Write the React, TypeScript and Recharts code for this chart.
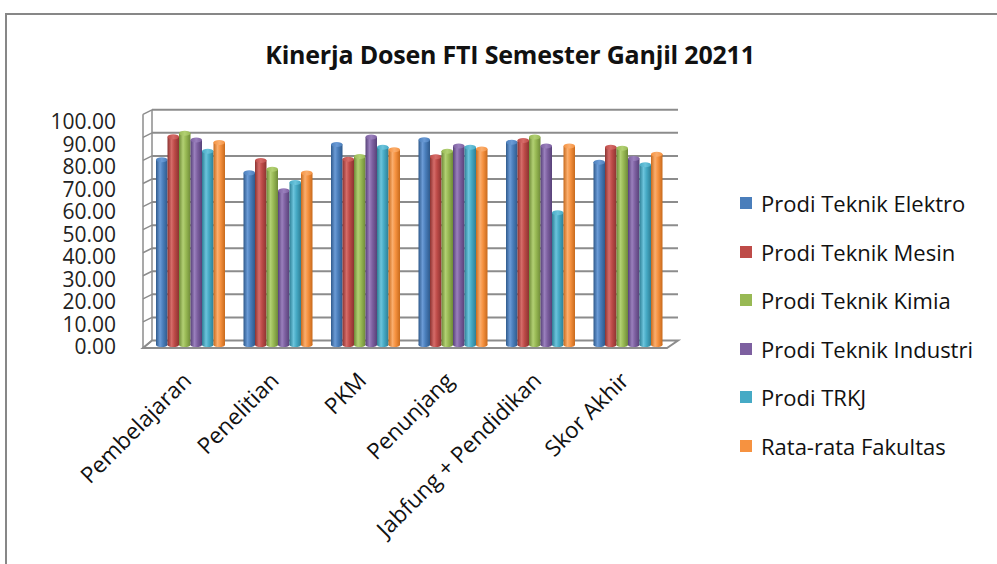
import React from 'react';
import { BarChart, Bar, XAxis, YAxis, CartesianGrid, Legend } from 'recharts';

const categories = ['Pembelajaran', 'Penelitian', 'PKM', 'Penunjang', 'Jabfung + Pendidikan', 'Skor Akhir'];
const seriesNames = [
  'Prodi Teknik Elektro',
  'Prodi Teknik Mesin',
  'Prodi Teknik Kimia',
  'Prodi Teknik Industri',
  'Prodi TRKJ',
  'Rata-rata Fakultas',
];
const elektro = [81.4, 75.7, 88.0, 90.0, 89.0, 80.3];
const mesin = [91.3, 81.1, 81.6, 82.7, 89.7, 86.8];
const kimia = [92.9, 77.3, 82.8, 85.1, 91.2, 86.4];
const industri = [89.9, 67.9, 91.2, 87.3, 87.3, 81.9];
const trkj = [85.1, 71.5, 86.8, 86.8, 58.4, 79.2];
const rataRata = [88.9, 75.6, 85.7, 86.0, 87.3, 83.8];
const yTicks = [0, 10, 20, 30, 40, 50, 60, 70, 80, 90, 100];
const colors = ['#4A7EBB', '#BE4B48', '#98B954', '#7D60A0', '#46AAC5', '#F69240'];
const darkColors = ['#2F5A8C', '#8C3331', '#6E8A38', '#574178', '#2E7F95', '#C86A1C'];
const lightColors = ['#6B9BD6', '#D56C69', '#B2D073', '#9A80BD', '#6CC4DC', '#FAAE6E'];

const allSeries = [elektro, mesin, kimia, industri, trkj, rataRata];
const data = categories.map((c, i) => {
  const row: any = { category: c };
  allSeries.forEach((s, k) => {
    row['s' + k] = s[i];
  });
  return row;
});

const FONT = '"Open Sans", sans-serif';
const GRID = '#8c8c8c';

const Cylinder = (props: any) => {
  const { x, y, width, height, gid } = props;
  if (!height || height <= 0) return null;
  const rx = width / 2;
  const ry = 2.5;
  return (
    <g>
      <rect x={x} y={y + ry} width={width} height={height - ry} fill={`url(#${gid})`} />
      <ellipse cx={x + rx} cy={y + height} rx={rx} ry={ry * 0.8} fill={`url(#${gid})`} />
      <ellipse cx={x + rx} cy={y + ry} rx={rx} ry={ry} fill={`url(#${gid}t)`} />
    </g>
  );
};

const GridLine = (p: any) => {
  const { x1, x2, y1 } = p;
  const back = 5;
  const front = 4;
  const up = 4.5;
  const hasBox = typeof p.y === 'number' && typeof p.height === 'number';
  const isBottom = hasBox ? Math.abs(y1 - (p.y + p.height)) < 0.5 : y1 > 340;
  return (
    <g>
      {!isBottom && (
        <line x1={x1 + back} y1={y1 - up} x2={x2 + 6} y2={y1 - up} stroke={GRID} strokeWidth={2} />
      )}
      <line x1={x1 - front} y1={y1 + (isBottom ? 3 : 0)} x2={x1 + back} y2={y1 - up} stroke={GRID} strokeWidth={1.5} />
      {isBottom && (
        <g>
          <polygon
            points={`${x1 - front},${y1 + 3} ${x2 - 5},${y1 + 3} ${x2 + 6},${y1 - up} ${x1 + back},${y1 - up}`}
            fill="none"
            stroke={GRID}
            strokeWidth={2}
          />
          {hasBox && (
            <g>
              <line x1={x1 - front} y1={p.y} x2={x1 - front} y2={y1 + 3} stroke={GRID} strokeWidth={1.5} />
              <line x1={x1 + back} y1={p.y - up} x2={x1 + back} y2={y1 - up} stroke={GRID} strokeWidth={1.5} />
            </g>
          )}
        </g>
      )}
    </g>
  );
};

const YTick = (props: any) => {
  const { x, y, payload } = props;
  return (
    <text x={x} y={y + 2 + payload.value * 0.057} dy="0.35em" textAnchor="end" fontSize={21} fill="#222" fontFamily={FONT}>
      {Number(payload.value).toFixed(2)}
    </text>
  );
};

const XTick = (props: any) => {
  const { x, y, payload } = props;
  return (
    <g transform={`translate(${x + 2},${y + 37})`}>
      <text textAnchor="end" transform="rotate(-45)" fontSize={22.5} fill="#111" fontFamily={FONT}>
        {payload.value}
      </text>
    </g>
  );
};

const renderLegend = (props: any) => {
  const payload = [...(props.payload || [])].sort(
    (a: any, b: any) => seriesNames.indexOf(a.value) - seriesNames.indexOf(b.value)
  );
  return (
    <div style={{ fontFamily: FONT, fontSize: 22, color: '#111' }}>
      {payload.map((e: any, i: number) => (
        <div key={i} style={{ display: 'flex', alignItems: 'center', height: 48.5 }}>
          <span style={{ display: 'inline-block', width: 12, height: 12, background: e.color, marginRight: 9 }} />
          <span>{e.value}</span>
        </div>
      ))}
    </div>
  );
};

export default function App() {
  return (
    <div style={{ position: 'absolute', left: 0, top: 0, width: 997, height: 564, overflow: 'hidden', background: '#fff' }}>
      <div
        style={{
          position: 'absolute',
          left: 5,
          top: 13,
          width: 1100,
          height: 700,
          borderTop: '2px solid #878787',
          borderLeft: '2px solid #878787',
        }}
      />
      <div
        style={{
          position: 'absolute',
          left: 0,
          width: 1020,
          top: 37,
          textAlign: 'center',
          fontFamily: FONT,
          fontWeight: 700,
          fontSize: 25,
          color: '#111',
          letterSpacing: -0.2,
        }}
      >
        Kinerja Dosen FTI Semester Ganjil 20211
      </div>
      <div style={{ position: 'absolute', left: 0, top: 0 }}>
        <BarChart
          width={997}
          height={564}
          data={data}
          margin={{ top: 114.3, right: 325, bottom: 119, left: 47 }}
          barGap={0}
          barSize={11.5}
        >
          <defs>
            {colors.map((c, i) => (
              <linearGradient key={'g' + i} id={'g' + i} x1="0" y1="0" x2="1" y2="0">
                <stop offset="0%" stopColor={darkColors[i]} />
                <stop offset="35%" stopColor={lightColors[i]} />
                <stop offset="60%" stopColor={c} />
                <stop offset="100%" stopColor={darkColors[i]} />
              </linearGradient>
            ))}
            {colors.map((c, i) => (
              <linearGradient key={'t' + i} id={'g' + i + 't'} x1="0" y1="0" x2="1" y2="0">
                <stop offset="0%" stopColor={c} />
                <stop offset="50%" stopColor={lightColors[i]} />
                <stop offset="100%" stopColor={c} />
              </linearGradient>
            ))}
          </defs>
          <CartesianGrid vertical={false} horizontal={GridLine as any} />
          <XAxis
            dataKey="category"
            axisLine={false}
            tickLine={false}
            tickSize={0}
            tickMargin={0}
            height={100}
            interval={0}
            tick={<XTick />}
          />
          <YAxis
            domain={[0, 100]}
            ticks={yTicks}
            axisLine={false}
            tickLine={false}
            tickSize={0}
            tickMargin={31}
            width={100}
            interval={0}
            tick={<YTick />}
          />
          <Legend
            layout="vertical"
            align="center"
            verticalAlign="middle"
            content={renderLegend}
            wrapperStyle={{ position: 'absolute', left: 740, top: 179, width: 257, bottom: 'auto', right: 'auto' }}
          />
          {seriesNames.map((name, i) => (
            <Bar
              key={name}
              dataKey={'s' + i}
              name={name}
              fill={colors[i]}
              isAnimationActive={false}
              shape={(p: any) => <Cylinder {...p} gid={'g' + i} />}
            />
          ))}
        </BarChart>
      </div>
    </div>
  );
}
